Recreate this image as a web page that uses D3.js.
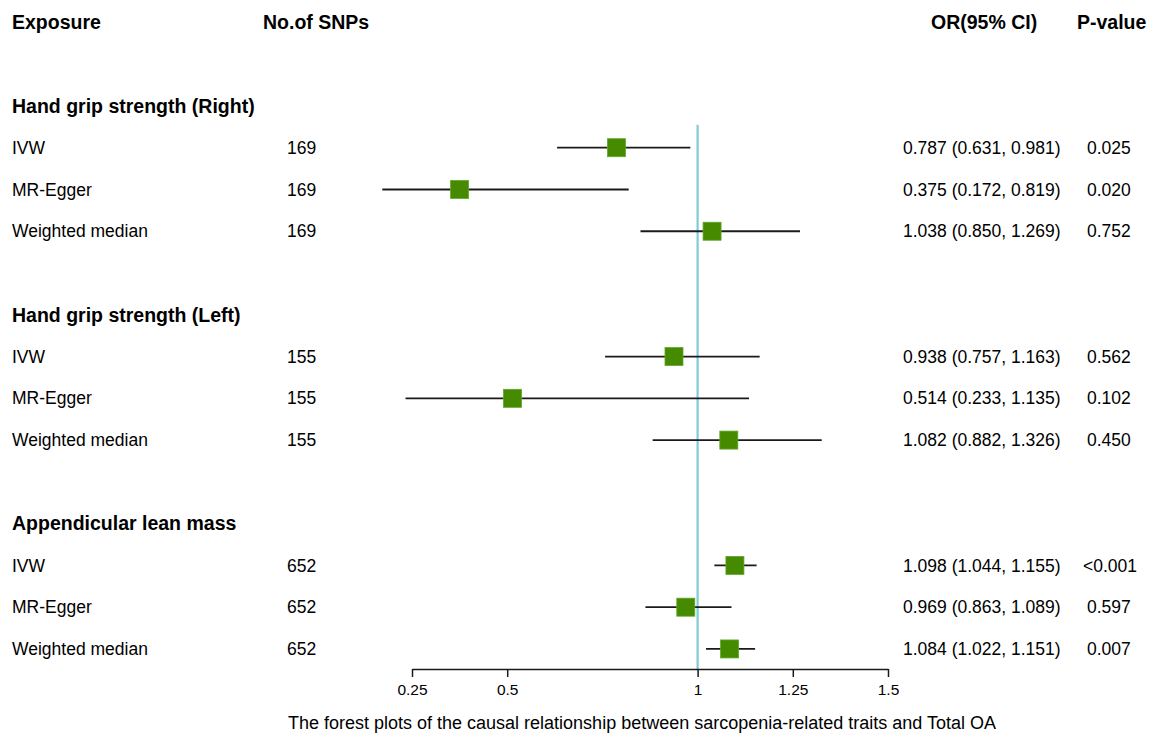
<!DOCTYPE html>
<html>
<head>
<meta charset="utf-8">
<script src="https://cdn.jsdelivr.net/npm/d3@7"></script>
<style>
  html, body { margin: 0; padding: 0; background: #fff; }
  svg text { font-family: "Liberation Sans", Arial, Helvetica, sans-serif; fill: #000; }
</style>
</head>
<body>
<svg id="chart" width="1151" height="734"></svg>
<script>
// ---- data ----
const groups = ["Hand grip strength (Right)", "Hand grip strength (Left)", "Appendicular lean mass"];
const methods = ["IVW", "MR-Egger", "Weighted median"];
const nsnps = [169, 155, 652];
const orValues = [[0.787, 0.375, 1.038], [0.938, 0.514, 1.082], [1.098, 0.969, 1.084]];
const ciLower = [[0.631, 0.172, 0.850], [0.757, 0.233, 0.882], [1.044, 0.863, 1.022]];
const ciUpper = [[0.981, 0.819, 1.269], [1.163, 1.135, 1.326], [1.155, 1.089, 1.151]];
const pValues = [["0.025", "0.020", "0.752"], ["0.562", "0.102", "0.450"], ["<0.001", "0.597", "0.007"]];
const tickValues = [0.25, 0.5, 1, 1.25, 1.5];
const headers = ["Exposure", "No.of SNPs", "OR(95% CI)", "P-value"];
const caption = "The forest plots of the causal relationship between sarcopenia-related traits and Total OA";

// ---- layout ----
const svg = d3.select("#chart");
const x = d3.scaleLinear().domain([0.25, 1.5]).range([412, 888]);
const rowY = i => 22.4 + i * 41.77;
const axisY = 669;
const fmt = d3.format(".3f");

// build rows
const rows = [];
let r = 2;
groups.forEach((g, gi) => {
  rows.push({ type: "group", label: g, row: r });
  r++;
  methods.forEach((m, mi) => {
    rows.push({
      type: "item", label: m, row: r, n: nsnps[gi],
      or: orValues[gi][mi], lo: ciLower[gi][mi], hi: ciUpper[gi][mi], p: pValues[gi][mi]
    });
    r++;
  });
  r++;
});

// headers
const headerX = [12, 263, 931, 1077];
svg.selectAll("text.header").data(headers).join("text")
  .attr("class", "header")
  .attr("x", (d, i) => headerX[i]).attr("y", rowY(0)).attr("dy", "0.35em")
  .attr("font-size", 19.5).attr("font-weight", "bold")
  .text(d => d);

// group labels
svg.selectAll("text.group").data(rows.filter(d => d.type === "group")).join("text")
  .attr("class", "group")
  .attr("x", 12).attr("y", d => rowY(d.row)).attr("dy", "0.35em")
  .attr("font-size", 19.5).attr("font-weight", "bold")
  .text(d => d.label);

const items = rows.filter(d => d.type === "item");

// method labels
svg.selectAll("text.method").data(items).join("text")
  .attr("x", 12).attr("y", d => rowY(d.row)).attr("dy", "0.35em")
  .attr("font-size", 17.5).text(d => d.label);
// snps
svg.selectAll("text.snp").data(items).join("text")
  .attr("x", 287).attr("y", d => rowY(d.row)).attr("dy", "0.35em")
  .attr("font-size", 17.5).text(d => d.n);
// OR text
svg.selectAll("text.ortext").data(items).join("text")
  .attr("x", 903).attr("y", d => rowY(d.row)).attr("dy", "0.35em")
  .attr("font-size", 17.5).text(d => `${fmt(d.or)} (${fmt(d.lo)}, ${fmt(d.hi)})`);
// p
svg.selectAll("text.pval").data(items).join("text")
  .attr("x", d => d.p.startsWith("<") ? 1083 : 1087).attr("y", d => rowY(d.row)).attr("dy", "0.35em")
  .attr("font-size", 17.5).text(d => d.p);

// reference line
svg.append("line")
  .attr("x1", x(1)).attr("x2", x(1))
  .attr("y1", rowY(2.45)).attr("y2", axisY)
  .attr("stroke", "#7fcbd6").attr("stroke-width", 2.2);

// CI lines
svg.selectAll("line.ci").data(items).join("line")
  .attr("x1", d => x(d.lo)).attr("x2", d => x(d.hi))
  .attr("y1", d => rowY(d.row)).attr("y2", d => rowY(d.row))
  .attr("stroke", "#1a1a1a").attr("stroke-width", 1.8);

// squares
const sq = 18;
svg.selectAll("rect.pt").data(items).join("rect")
  .attr("x", d => x(d.or) - sq / 2).attr("y", d => rowY(d.row) - sq / 2)
  .attr("width", sq).attr("height", sq)
  .attr("fill", "#468a00").attr("stroke", "#5ea82a").attr("stroke-width", 0.8);

// axis
const axis = d3.axisBottom(x).tickValues(tickValues).tickFormat(d => String(d)).tickSize(8).tickPadding(7).tickSizeOuter(0);
const ax = svg.append("g").attr("transform", `translate(0,${axisY})`).call(axis);
ax.attr("font-family", null).attr("font-size", null);
ax.select(".domain").attr("stroke", "#1a1a1a").attr("stroke-width", 1.5);
ax.selectAll(".tick line").attr("stroke", "#1a1a1a").attr("stroke-width", 1.5);
ax.selectAll(".tick text").style("font-size", "15.5px").attr("fill", "#000");

// caption
svg.append("text").attr("x", 642).attr("y", 723).attr("dy", "0.35em")
  .attr("text-anchor", "middle").attr("font-size", 18).text(caption);
</script>
</body>
</html>
